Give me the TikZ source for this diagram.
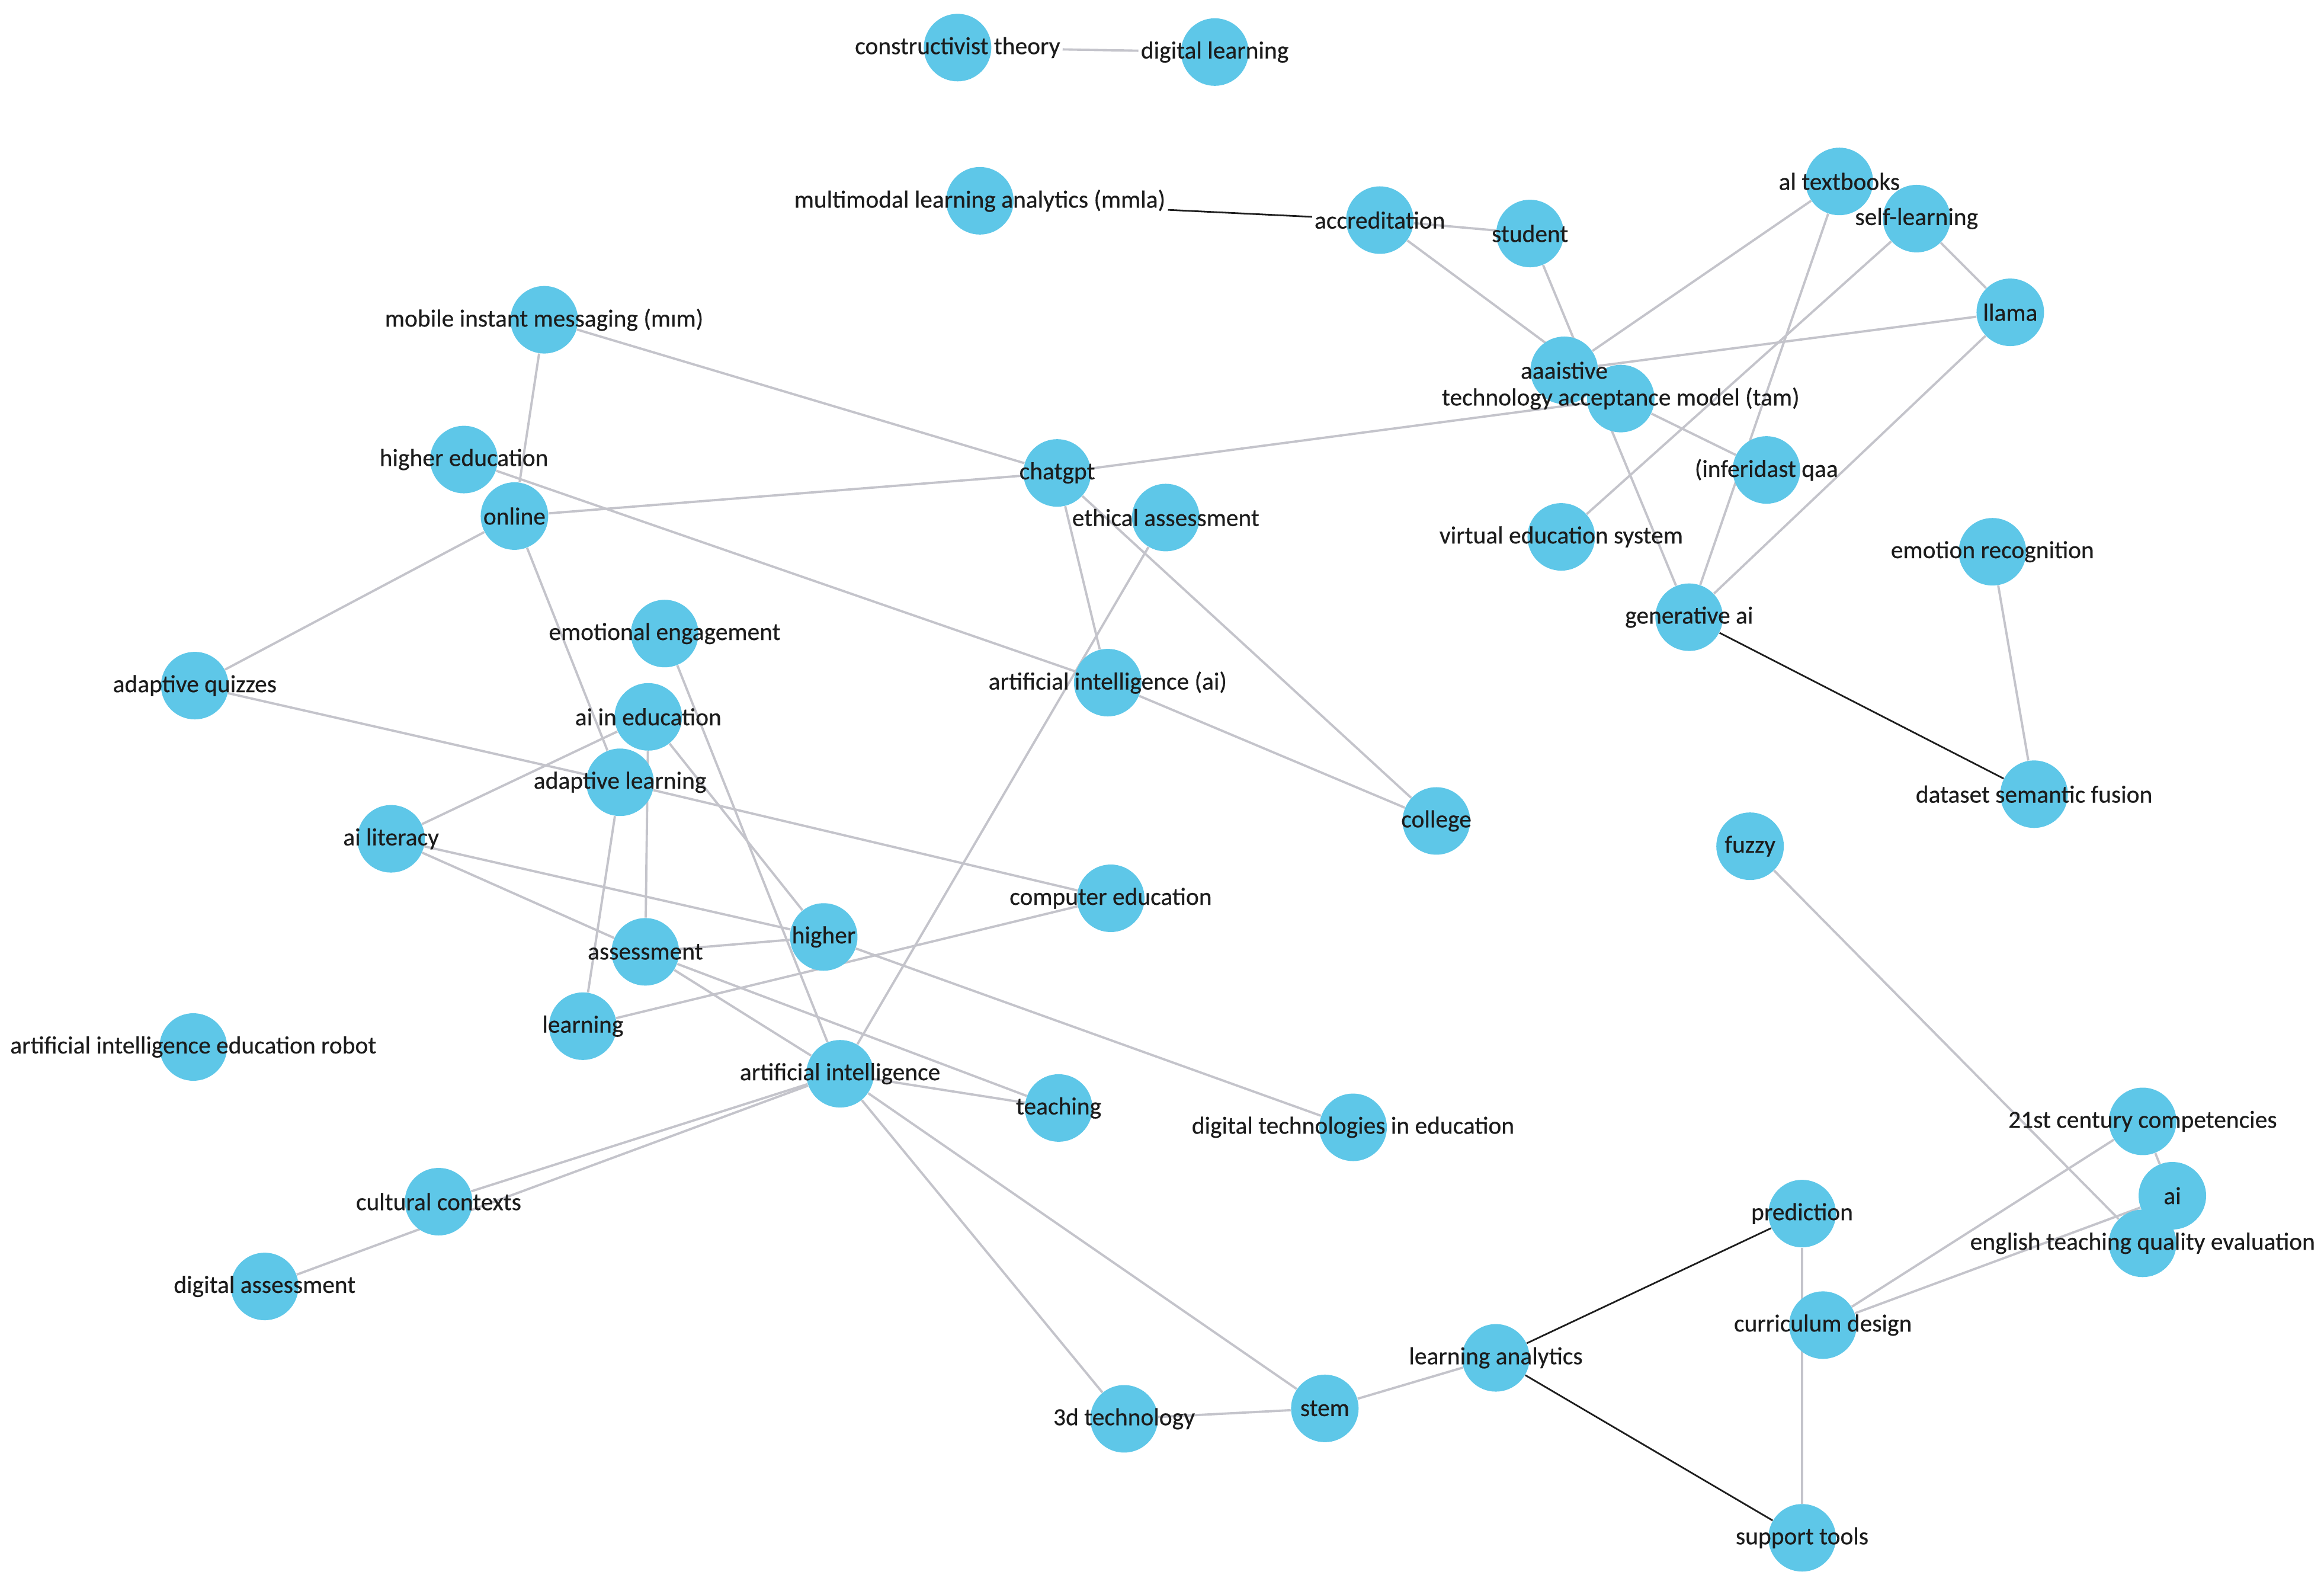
\documentclass[tikz,border=0pt]{standalone}
\usepackage{fontspec}
\setmainfont{Carlito}
\newfontfamily\kwfont{Carlito}[FakeBold=0.5]

\definecolor{kwblue}{RGB}{94,199,232}
\definecolor{linkgray}{RGB}{196,196,203}
\definecolor{linkdark}{RGB}{30,30,30}
\definecolor{txt}{RGB}{28,28,28}

\pgfdeclarelayer{edges}
\pgfsetlayers{edges,main}

% name/x/y/text of every keyword
\newcommand{\kwlist}{%
ct/644/32/constructivist theory,
dl/817/35/digital learning,
mmla/659/135/multimodal learning analytics (mmla),
accr/928/148/accreditation,
stud/1029/157/student,
altb/1237/122/al textbooks,
self/1289/147/self-learning,
llama/1352/210/llama,
aaa/1052/249/aaaistive,
tam/1090/268/technology acceptance model (tam),
infer/1188/316/(inferidast qaa,
ves/1050/361/virtual education system,
emorec/1340/371/emotion recognition,
genai/1136/415/generative ai,
dsf/1368/534/dataset semantic fusion,
fuzzy/1177/569/fuzzy,
mim/366/215/mobile instant messaging (mım),
hedu/312/309/higher education,
online/346/347/online,
chatgpt/711/318/chatgpt,
ethic/784/348/ethical assessment,
emoeng/447/426/emotional engagement,
aiedu/436/482/ai in education,
aiai/745/459/artificial intelligence (ai),
college/966/552/college,
adquiz/131/461/adaptive quizzes,
adlearn/417/526/adaptive learning,
ailit/263/564/ai literacy,
compedu/747/604/computer education,
higher/554/630/higher,
assess/434/640/assessment,
learning/392/690/learning,
robot/130/704/artificial intelligence education robot,
ai/565/722/artificial intelligence,
teaching/712/745/teaching,
dtie/910/758/digital technologies in education,
cult/295/808/cultural contexts,
digass/178/865/digital assessment,
tdtech/756/954/3d technology,
stem/891/947/stem,
la/1006/913/learning analytics,
pred/1212/816/prediction,
curr/1226/891/curriculum design,
supp/1212/1034/support tools,
cent/1441/754/21st century competencies,
airt/1461/804/ai,
eng/1441/836/english teaching quality evaluation}

\begin{document}
\begin{tikzpicture}[x=0.251mm, y=-0.251mm,
    kw/.style={circle, fill=kwblue, minimum size=11.4mm, inner sep=0pt},
    lbl/.style={text=txt, font=\kwfont\fontsize{11.8pt}{14pt}\selectfont, inner sep=1pt}]
  \tikzset{edge/.style = {draw=linkgray, line width=1.1pt}}
  \tikzset{strong/.style = {draw=linkdark, line width=0.8pt}}

  \useasboundingbox (0,0) rectangle (1563,1067.5);

  % circles first, then all texts above them
  \foreach \k/\u/\v/\w in \kwlist {
    \node[kw] (\k) at (\u,\v) {};
  }
  \foreach \k/\u/\v/\w in \kwlist {
    \node[lbl] (\k-t) at (\k) {\w};
  }

  \begin{pgfonlayer}{edges}
    \fill[white] (0,0) rectangle (1563,1067.5);

    % top
    \draw [edge] (ct-t) -- (dl-t);
    \draw [strong] (mmla-t) -- (accr-t);

    % upper right cluster
    \draw [edge] (accr) -- (stud);
    \draw [edge] (accr) -- (tam);
    \draw [edge] (stud) -- (genai);
    \draw [edge] (altb) -- (aaa);
    \draw [edge] (altb) -- (genai);
    \draw [edge] (self) -- (llama);
    \draw [edge] (self) -- (ves);
    \draw [edge] (llama) -- (aaa);
    \draw [edge] (llama) -- (genai);
    \draw [edge] (tam) -- (infer);
    \draw [edge] (chatgpt) -- (tam);
    \draw [strong] (genai) -- (dsf);
    \draw [edge] (emorec) -- (dsf);

    % upper left
    \draw [edge] (mim) -- (online);
    \draw [edge] (mim) -- (chatgpt);
    \draw [edge] (hedu) -- (aiai);
    \draw [edge] (online) -- (chatgpt);
    \draw [edge] (online) -- (adquiz);
    \draw [edge] (online) -- (adlearn);
    \draw [edge] (chatgpt) -- (aiai);
    \draw [edge] (chatgpt) -- (college);
    \draw [edge] (aiai) -- (college);

    % middle
    \draw [edge] (adquiz) -- (adlearn);
    \draw [edge] (ailit) -- (aiedu);
    \draw [edge] (ailit) -- (higher);
    \draw [edge] (ailit) -- (assess);
    \draw [edge] (aiedu) -- (higher);
    \draw [edge] (aiedu) -- (assess);
    \draw [edge] (adlearn) -- (learning);
    \draw [edge] (adlearn) -- (compedu);
    \draw [edge] (assess) -- (higher);
    \draw [edge] (assess) -- (ai);
    \draw [edge] (assess) -- (teaching);
    \draw [edge] (learning) -- (compedu);
    \draw [edge] (higher) -- (dtie);
    \draw [edge] (emoeng) -- (ai);
    \draw [edge] (ethic) -- (ai);

    % artificial intelligence hub
    \draw [edge] (ai) -- (teaching);
    \draw [edge] (ai) -- (cult);
    \draw [edge] (ai) -- (digass);
    \draw [edge] (ai) -- (tdtech);
    \draw [edge] (ai) -- (stem);
    \draw [edge] (tdtech) -- (stem);
    \draw [edge] (stem) -- (la);

    % lower right
    \draw [strong] (la) -- (pred);
    \draw [strong] (la) -- (supp);
    \draw [edge] (pred) -- (supp);
    \draw [edge] (curr) -- (cent);
    \draw [edge] (curr) -- (airt);
    \draw [edge] (cent) -- (airt);
    \draw [edge] (fuzzy) -- (eng);
  \end{pgfonlayer}
\end{tikzpicture}
\end{document}
